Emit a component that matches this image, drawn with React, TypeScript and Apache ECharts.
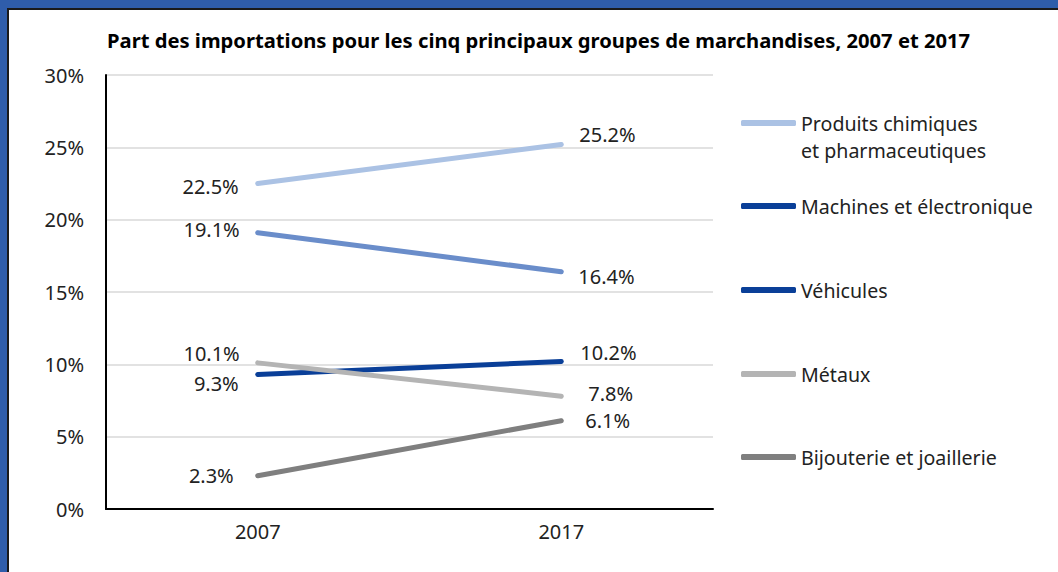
import React, { useEffect, useRef } from "react";
import * as echarts from "echarts";

const years = ["2007", "2017"];
const seriesNames = [
  "Produits chimiques\net pharmaceutiques",
  "Machines et électronique",
  "Véhicules",
  "Métaux",
  "Bijouterie et joaillerie",
];
const chimiques = [22.5, 25.2];
const machines = [19.1, 16.4];
const vehicules = [9.3, 10.2];
const metaux = [10.1, 7.8];
const bijouterie = [2.3, 6.1];
const yTicks = [0, 5, 10, 15, 20, 25, 30];

const lineColors = ["#ABC2E4", "#6A8DCA", "#0A3F98", "#B4B4B4", "#7F7F7F"];
const legendColors = ["#ABC2E4", "#0A3F98", "#0A3F98", "#B4B4B4", "#7F7F7F"];
// label offsets [left point dx,dy], [right point dx,dy]
const labelOffsets = [
  [[1, 3], [-2, -10]],
  [[2, -3], [-3, 5]],
  [[1, 9], [-1, -9]],
  [[2, -9], [7, -3]],
  [[-4, 0], [4, 0]],
];
const legendCenters = [123, 206, 290, 374, 457];

const FONT = "'Noto Sans', sans-serif";
const LH = 24;
const LH_FIRST = 27.5;

export default function App() {
  const ref = useRef<HTMLDivElement>(null);
  useEffect(() => {
    if (!ref.current) return;
    const chart = echarts.init(ref.current, undefined, { renderer: "svg" });
    const allData = [chimiques, machines, vehicules, metaux, bijouterie];
    const series = seriesNames.map((name, si) => ({
      name,
      type: "line",
      symbol: "circle",
      symbolSize: 4,
      itemStyle: { color: lineColors[si] },
      lineStyle: { color: lineColors[si], width: 5, cap: "round" },
      data: allData[si].map((v, i) => ({
        value: v,
        label: {
          show: true,
          position: i === 0 ? "left" : "right",
          distance: 18,
          offset: labelOffsets[si][i],
          formatter: (p: any) => p.value.toFixed(1) + "%",
          color: "#222",
          fontSize: 20,
          fontFamily: FONT,
        },
      })),
    }));
    const legends = seriesNames.map((name, i) => ({
      orient: "vertical",
      left: 741,
      top: i === 0 ? legendCenters[i] - LH_FIRST * 1.5 : legendCenters[i] - LH / 2,
      padding: 0,
      icon: "roundRect",
      itemWidth: 55,
      itemHeight: 6,
      itemGap: 0,
      selectedMode: false,
      formatter: i === 0 ? (n: string) => " \n" + n : undefined,
      data: [
        {
          name,
          itemStyle: { color: legendColors[i], borderWidth: 0 },
        },
      ],
      textStyle: {
        fontFamily: FONT,
        fontSize: 19.6,
        lineHeight: i === 0 ? LH_FIRST : LH,
        color: "#222",
      },
    }));
    chart.setOption({
      animation: false,
      backgroundColor: "#fff",
      textStyle: { fontFamily: FONT },
      title: {
        text: "Part des importations pour les cinq principaux groupes de marchandises, 2007 et 2017",
        left: 102,
        top: 25,
        textStyle: {
          fontFamily: FONT,
          fontSize: 20.2,
          fontWeight: "bold",
          color: "#000",
        },
      },
      legend: legends,
      grid: { left: 106, right: 345, top: 75, bottom: 63, containLabel: false },
      xAxis: {
        type: "category",
        data: years,
        boundaryGap: true,
        axisLine: { lineStyle: { color: "#000", width: 2 } },
        axisTick: { show: false },
        axisLabel: { color: "#222", fontSize: 20, margin: 12, fontFamily: FONT },
      },
      yAxis: {
        type: "value",
        min: yTicks[0],
        max: yTicks[yTicks.length - 1],
        interval: 5,
        axisLine: { show: true, lineStyle: { color: "#000", width: 2 } },
        axisTick: { show: false },
        axisLabel: {
          color: "#222",
          fontSize: 20,
          margin: 22,
          fontFamily: FONT,
          formatter: "{value}%",
        },
        splitLine: { lineStyle: { color: "#D9D9D9", width: 1.5 } },
      },
      graphic: [
        { type: "rect", shape: { x: 0, y: 0, width: 1058, height: 8 }, style: { fill: "#2F5DAA" }, z: 100 },
        { type: "rect", shape: { x: 0, y: 0, width: 7, height: 572 }, style: { fill: "#2F5DAA" }, z: 100 },
        { type: "rect", shape: { x: 7, y: 8, width: 1051, height: 2 }, style: { fill: "#1A1A1A" }, z: 100 },
        { type: "rect", shape: { x: 7, y: 8, width: 2, height: 564 }, style: { fill: "#1A1A1A" }, z: 100 },
      ],
      series,
    });
    return () => chart.dispose();
  }, []);
  return (
    <div
      ref={ref}
      style={{ position: "fixed", left: 0, top: 0, width: 1058, height: 572, background: "#fff" }}
    />
  );
}
